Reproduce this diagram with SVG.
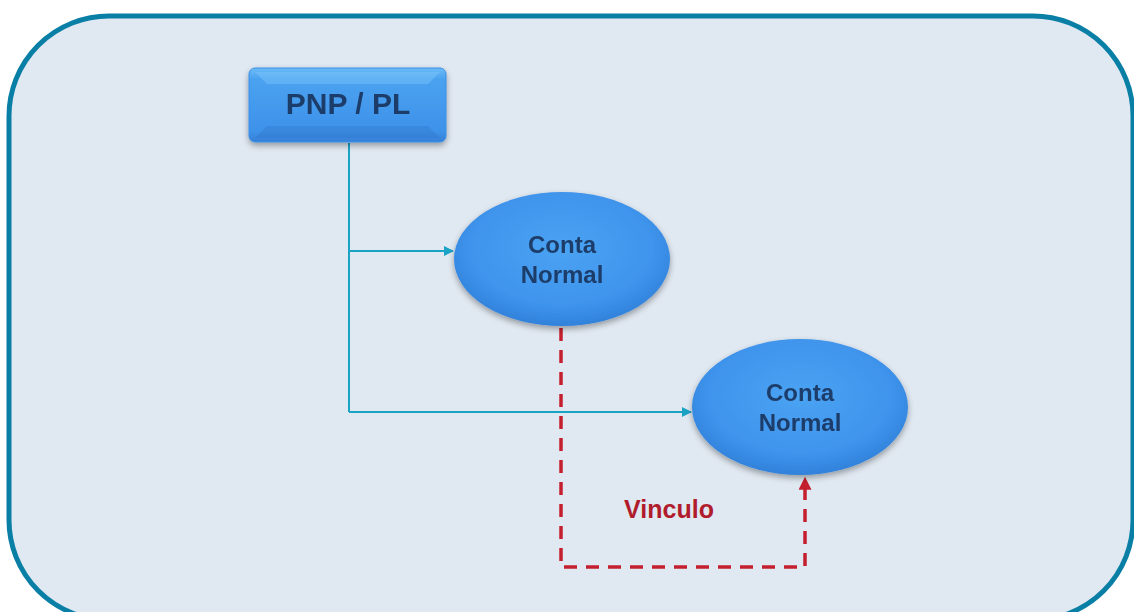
<svg xmlns="http://www.w3.org/2000/svg" width="1134" height="612" viewBox="0 0 1134 612">
  <defs>
    <linearGradient id="boxFill" x1="0" y1="0" x2="0" y2="1">
      <stop offset="0" stop-color="#6cbcf7"/>
      <stop offset="0.15" stop-color="#4aa2f0"/>
      <stop offset="0.85" stop-color="#3e92ea"/>
      <stop offset="1" stop-color="#3580d6"/>
    </linearGradient>
    <radialGradient id="ovalFill" cx="0.5" cy="0.42" r="0.6">
      <stop offset="0" stop-color="#4aa3f3"/>
      <stop offset="0.7" stop-color="#3f94ec"/>
      <stop offset="1" stop-color="#2f7fd8"/>
    </radialGradient>
    <filter id="shadow" x="-20%" y="-20%" width="140%" height="150%">
      <feGaussianBlur in="SourceAlpha" stdDeviation="3"/>
      <feOffset dy="3"/>
      <feComponentTransfer><feFuncA type="linear" slope="0.35"/></feComponentTransfer>
      <feMerge><feMergeNode/><feMergeNode in="SourceGraphic"/></feMerge>
    </filter>
    <marker id="tealArrow" viewBox="0 0 10 10" refX="9" refY="5" markerWidth="11" markerHeight="10" orient="auto" markerUnits="userSpaceOnUse">
      <path d="M0,0 L10,5 L0,10 z" fill="#1ba3c6"/>
    </marker>
    <marker id="redArrow" viewBox="0 0 10 10" refX="9" refY="5" markerWidth="13" markerHeight="13" orient="auto" markerUnits="userSpaceOnUse">
      <path d="M0,0 L10,5 L0,10 z" fill="#c41f2e"/>
    </marker>
  </defs>
  <style>
    .frame { fill: #e0e8f1; stroke: #0a7fa6; stroke-width: 5; }
    .label { font-family: "Liberation Sans", Arial, sans-serif; font-weight: bold; fill: #1f3d6a; text-anchor: middle; }
    .teal { fill: none; stroke: #1ba3c6; stroke-width: 2; }
    .red { fill: none; stroke: #c41f2e; stroke-width: 3.5; stroke-dasharray: 13 9; }
  </style>

  <rect width="1134" height="612" fill="#ffffff"/>
  <rect class="frame" x="9" y="16" width="1124" height="604" rx="100" ry="100"/>

  <g id="connectors">
    <path class="teal" d="M349,143 V412"/>
    <path class="teal" d="M349,251 H453" marker-end="url(#tealArrow)"/>
    <path class="teal" d="M349,412 H691" marker-end="url(#tealArrow)"/>
    <path class="red" d="M561,328 V567 H805 V478" marker-end="url(#redArrow)"/>
    <text x="669" y="518" font-family="'Liberation Sans', Arial, sans-serif" font-weight="bold" font-size="25" fill="#b01c2c" text-anchor="middle">Vinculo</text>
  </g>

  <g id="pnp-pl" filter="url(#shadow)">
    <rect x="249" y="68" width="197" height="74" rx="6" fill="url(#boxFill)" stroke="#3a8ee6" stroke-width="1"/>
    <path d="M255,72 H440 L428,84 H267 Z" fill="#7fc6fa" opacity="0.45"/>
    <path d="M255,138 H440 L428,126 H267 Z" fill="#2a6fc4" opacity="0.3"/>
    <text class="label" x="348" y="114" font-size="30">PNP / PL</text>
  </g>

  <g id="conta-normal-1" filter="url(#shadow)">
    <ellipse cx="562" cy="259" rx="108" ry="67" fill="url(#ovalFill)"/>
    <text class="label" x="562" y="253" font-size="24">Conta</text>
    <text class="label" x="562" y="283" font-size="24">Normal</text>
  </g>

  <g id="conta-normal-2" filter="url(#shadow)">
    <ellipse cx="800" cy="407" rx="108" ry="68" fill="url(#ovalFill)"/>
    <text class="label" x="800" y="401" font-size="24">Conta</text>
    <text class="label" x="800" y="431" font-size="24">Normal</text>
  </g>
</svg>
